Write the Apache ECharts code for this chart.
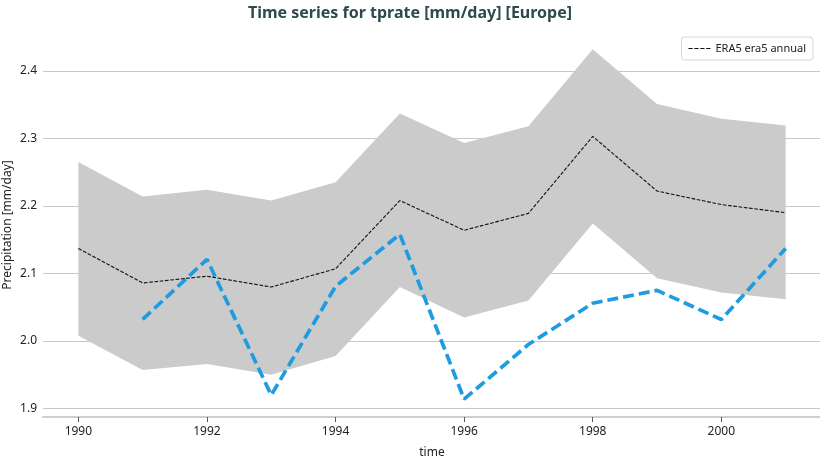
<!DOCTYPE html>
<html><head><meta charset="utf-8">
<script src="https://cdn.jsdelivr.net/npm/echarts@6/dist/echarts.min.js"></script>
<style>html,body{margin:0;padding:0;background:#fff}#c{width:820px;height:457px}</style>
</head><body><div id="c"></div>
<script>
const years = [1990,1991,1992,1993,1994,1995,1996,1997,1998,1999,2000,2001];
const era5 = [2.137,2.086,2.096,2.080,2.107,2.208,2.164,2.189,2.303,2.222,2.202,2.190];
const bandUpper = [2.265,2.214,2.224,2.208,2.235,2.337,2.293,2.318,2.432,2.351,2.329,2.319];
const bandLower = [2.008,1.957,1.966,1.950,1.978,2.080,2.035,2.060,2.174,2.093,2.072,2.062];
const modelYears = [1991,1992,1993,1994,1995,1996,1997,1998,1999,2000,2001];
const modelVals = [2.032,2.121,1.920,2.081,2.158,1.914,1.995,2.056,2.075,2.032,2.137];
const xTicks = [1990,1992,1994,1996,1998,2000];
const yTicks = [1.9,2.0,2.1,2.2,2.3,2.4];

const FONT = '"Noto Sans", sans-serif';
const bandData = years.map((y,i)=>[y,bandLower[i],bandUpper[i]]);
const chart = echarts.init(document.getElementById('c'));
chart.setOption({
  animation:false,
  title:{text:'Time series for tprate [mm/day] [Europe]', left:'center', top:0,
    textStyle:{fontFamily:FONT, fontSize:16, fontWeight:'bold', color:'#2d4a4c'}},
  legend:{data:[{name:'ERA5 era5 annual', icon:'path://M0,0H5V1H0Z M7,0H12V1H7Z M14,0H19V1H14Z M21,0H26V1H21Z'}],
    right:7, top:37, orient:'vertical',
    backgroundColor:'#fff', borderColor:'#d6d6d6', borderWidth:1, borderRadius:3,
    padding:[6,7,6,7], itemWidth:22, itemHeight:1, itemGap:4,
    textStyle:{fontFamily:FONT, fontSize:11, color:'#222'}},
  grid:{left:43, right:-1, top:33, bottom:40, containLabel:false, outerBoundsMode:'none'},
  xAxis:{type:'value', min:1989.45, max:2001.55, name:'time', nameLocation:'middle', nameGap:30,
    nameMoveOverlap:false,
    nameTextStyle:{fontFamily:FONT, fontSize:12, color:'#222'},
    axisLine:{show:true, lineStyle:{color:'#cfcfcf', width:2}},
    axisTick:{show:true, customValues:xTicks, length:5, lineStyle:{color:'#555'}},
    axisLabel:{customValues:xTicks, fontFamily:FONT, fontSize:12, color:'#222', margin:9, formatter:v=>String(Math.round(v))},
    splitLine:{show:false}},
  yAxis:{type:'value', min:1.8876, max:2.456, name:'Precipitation [mm/day]', nameLocation:'middle', nameGap:29,
    nameMoveOverlap:false,
    nameTextStyle:{fontFamily:FONT, fontSize:12, color:'#222'},
    axisLine:{show:false}, axisTick:{show:false, customValues:yTicks},
    axisLabel:{customValues:yTicks, fontFamily:FONT, fontSize:12, color:'#222', margin:6, formatter:v=>v.toFixed(1)},
    splitLine:{show:true, lineStyle:{color:'#c8c8c8', width:1}}},
  series:[
    {name:'band', type:'custom', data:bandData, silent:true, z:1,
      encode:{x:0, y:[1,2]},
      renderItem:function(params, api){
        if (params.dataIndex !== 0) return null;
        const top = [], bot = [];
        for (let i=0;i<bandData.length;i++){
          top.push(api.coord([bandData[i][0], bandData[i][2]]));
          bot.push(api.coord([bandData[i][0], bandData[i][1]]));
        }
        return {type:'polygon', shape:{points:top.concat(bot.reverse())}, style:{fill:'#cbcbcb'}};
      }},
    {name:'model', type:'line', data:modelYears.map((y,i)=>[y,modelVals[i]]), symbol:'none',
      lineStyle:{color:'#1f9ce0', width:3.7, type:[11,5]}, z:3},
    {name:'ERA5 era5 annual', type:'line', data:years.map((y,i)=>[y,era5[i]]), symbol:'none',
      itemStyle:{color:'#111'}, lineStyle:{color:'#111', width:1.1, type:[3.7,1.6]}, z:4}
  ]
});
</script></body></html>
